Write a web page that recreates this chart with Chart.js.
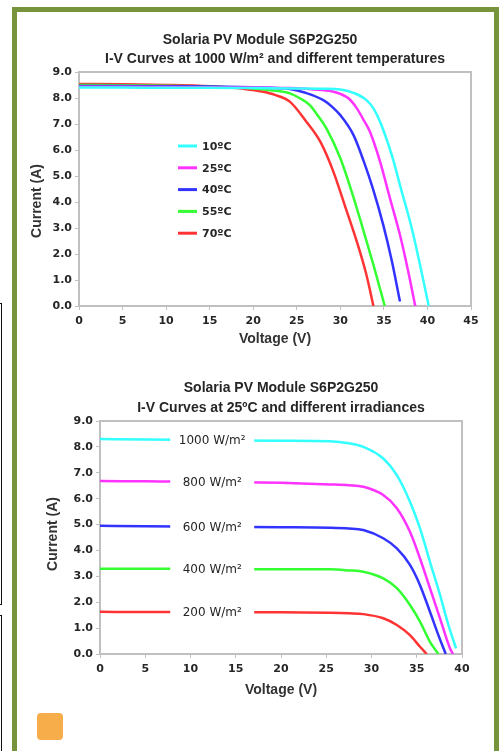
<!DOCTYPE html>
<html>
<head>
<meta charset="utf-8">
<script src="https://cdn.jsdelivr.net/npm/chart.js@4.4.0/dist/chart.umd.min.js"></script>
<style>
  html, body { margin: 0; padding: 0; background: #fff; overflow: hidden; }
  body { width: 501px; height: 751px; position: relative; }
  .marco { position: absolute; left: 12px; top: 7px; width: 487px; height: 800px;
           border: 5px solid #77933C; box-sizing: border-box; }
  .borde1 { position: absolute; left: -10px; top: 303px; width: 12px; height: 302px;
            border: 1px solid #111; box-sizing: border-box; }
  .borde2 { position: absolute; left: -10px; top: 615px; width: 12px; height: 200px;
            border: 1px solid #111; box-sizing: border-box; }
  .cuadro { position: absolute; left: 37px; top: 713px; width: 26px; height: 27px;
            background: #F7AD4A; border-radius: 4px; }
  canvas { position: absolute; left: 17px; }
  #chart-temp { top: 20px; }
  #chart-irr { top: 365px; }
</style>
</head>
<body>
<div class="borde1"></div>
<div class="borde2"></div>
<div class="marco"></div>
<canvas id="chart-temp" width="477" height="335"></canvas>
<canvas id="chart-irr" width="477" height="345"></canvas>
<div class="cuadro"></div>

<script>
// Curvas I-V a 1000 W/m2 y distintas temperaturas
const tempLabels = ['10ºC', '25ºC', '40ºC', '55ºC', '70ºC'];
const v10 = [0, 5, 10, 15, 20, 25, 28, 30, 31.5, 33, 33.8, 34.56, 35.9, 37.05, 38.2, 39.15, 40.15];
const i10 = [8.40, 8.40, 8.39, 8.39, 8.38, 8.37, 8.36, 8.33, 8.20, 7.92, 7.60, 7.09, 5.81, 4.40, 2.99, 1.58, 0.00];
const v25 = [0, 5, 10, 15, 20, 24.2, 27, 29, 30, 31, 31.9, 32.6, 33.4, 34.56, 35.7, 36.85, 37.8, 38.6];
const i25 = [8.43, 8.43, 8.42, 8.41, 8.40, 8.38, 8.33, 8.26, 8.16, 7.97, 7.60, 7.20, 6.70, 5.55, 4.14, 2.73, 1.32, 0.00];
const v40 = [0, 5, 10, 15, 20, 22, 24.2, 26, 28.05, 29, 29.97, 31.5, 32.65, 33.8, 34.94, 35.9, 36.85];
const i40 = [8.46, 8.46, 8.45, 8.44, 8.41, 8.39, 8.35, 8.20, 7.92, 7.68, 7.35, 6.58, 5.60, 4.45, 3.10, 1.75, 0.17];
const v55 = [0, 5, 10, 15, 18, 20, 22, 24.2, 25.4, 26.5, 27.4, 28.4, 30, 31.3, 32.46, 33.8, 35.1];
const i55 = [8.50, 8.49, 8.47, 8.44, 8.41, 8.37, 8.30, 8.18, 7.98, 7.73, 7.33, 6.83, 5.68, 4.40, 3.12, 1.58, 0.00];
const v70 = [0, 5, 10, 15, 17, 19, 21, 22.5, 24.2, 26.1, 27.7, 29.2, 30.5, 31.9, 33.0, 33.8];
const i70 = [8.54, 8.53, 8.50, 8.45, 8.41, 8.35, 8.25, 8.12, 7.86, 7.09, 6.32, 5.17, 3.88, 2.47, 1.19, 0.00];

// Curvas I-V a 25ºC y distintas irradiancias
const irrLabels = ['1000 W/m²', '800 W/m²', '600 W/m²', '400 W/m²', '200 W/m²'];
const v1000 = [0, 5, 10, 15, 20, 25.4, 27.5, 29.1, 31.3, 32.8, 34.25, 35.36, 36.46, 37.57, 38.5, 39.34];
const i1000 = [8.30, 8.29, 8.27, 8.25, 8.24, 8.22, 8.14, 8.00, 7.55, 6.91, 5.88, 4.85, 3.56, 2.28, 1.12, 0.22];
const v800 = [0, 5, 10, 15, 20, 25.4, 27.5, 29.1, 31.3, 32.8, 34.25, 35.36, 36.46, 37.57, 38.67, 39.0];
const i800 = [6.68, 6.67, 6.66, 6.64, 6.61, 6.55, 6.52, 6.46, 6.14, 5.63, 4.72, 3.69, 2.54, 1.38, 0.22, 0.00];
const v600 = [0, 5, 10, 15, 20, 25.4, 27.5, 29.1, 31.3, 32.8, 34.25, 35.36, 36.46, 37.39, 38.2];
const i600 = [4.95, 4.93, 4.92, 4.91, 4.90, 4.88, 4.85, 4.79, 4.47, 4.08, 3.44, 2.66, 1.63, 0.73, 0.00];
const v400 = [0, 5, 10, 15, 20, 25.4, 27.5, 29.1, 31.3, 32.8, 34.25, 35.36, 36.46, 37.4];
const i400 = [3.29, 3.29, 3.29, 3.28, 3.27, 3.27, 3.23, 3.18, 2.92, 2.54, 1.89, 1.25, 0.47, 0.00];
const v200 = [0, 5, 10, 15, 20, 25.4, 27.5, 29.1, 31.3, 32.8, 34.25, 35.36, 36.1];
const i200 = [1.63, 1.62, 1.62, 1.61, 1.61, 1.59, 1.57, 1.54, 1.38, 1.12, 0.73, 0.28, 0.00];
const labelV = 12.4; // voltaje donde se escriben las etiquetas de irradiancia

const colores = ['#33FFFF', '#FF33FF', '#3333FF', '#33FF33', '#FF3333'];
const tickFont = { family: 'DejaVu Sans', size: 11, weight: 'bold' };
const axisFont = { family: 'Liberation Sans', size: 14, weight: 'bold' };

function puntos(vs, is) {
  return vs.map((v, k) => ({ x: v, y: is[k] }));
}
function interp(vs, is, v) {
  for (let k = 1; k < vs.length; k++) {
    if (v <= vs[k]) return is[k - 1] + (is[k] - is[k - 1]) * (v - vs[k - 1]) / (vs[k] - vs[k - 1]);
  }
  return is[is.length - 1];
}
function series(labels, pares) {
  return pares.map((p, k) => ({
    label: labels[k],
    data: puntos(p[0], p[1]),
    borderColor: colores[k],
    borderWidth: 2.5,
    pointRadius: 0,
    showLine: true,
    fill: false,
    cubicInterpolationMode: 'monotone'
  }));
}

// Titulos, caja del area, titulo del eje y, leyenda / etiquetas
const decorado = {
  id: 'decorado',
  beforeDatasetsDraw(chart, args, o) {
    const { ctx, chartArea: a } = chart;
    ctx.save();
    ctx.strokeStyle = '#C0C0C0';
    ctx.lineWidth = 2;
    ctx.strokeRect(a.left, a.top, a.right - a.left, a.bottom - a.top);
    ctx.restore();
  },
  afterDatasetsDraw(chart, args, o) {
    const { ctx, chartArea: a, scales } = chart;
    const cx = (a.left + a.right) / 2;
    ctx.save();
    ctx.fillStyle = '#262626';
    ctx.textAlign = 'center';
    ctx.textBaseline = 'middle';
    ctx.font = 'bold 14px "Liberation Sans"';
    o.titulo.forEach((t, k) => ctx.fillText(t, cx + o.tituloDx[k], o.tituloY[k]));

    ctx.save();
    ctx.translate(o.yTitulo[0], o.yTitulo[1]);
    ctx.rotate(-Math.PI / 2);
    ctx.fillStyle = '#333';
    ctx.fillText('Current (A)', 0, 0);
    ctx.restore();

    if (o.leyenda) {
      ctx.font = 'bold 11px "DejaVu Sans"';
      ctx.textAlign = 'left';
      chart.data.datasets.forEach((d, k) => {
        const y = o.leyenda.y + k * o.leyenda.dy;
        ctx.strokeStyle = d.borderColor;
        ctx.lineWidth = 3;
        ctx.beginPath();
        ctx.moveTo(o.leyenda.x, y);
        ctx.lineTo(o.leyenda.x + 19, y);
        ctx.stroke();
        ctx.fillStyle = '#262626';
        ctx.fillText(d.label, o.leyenda.x + 24, y + 1);
      });
    }
    if (o.etiquetas) {
      ctx.font = '12px "DejaVu Sans"';
      ctx.textAlign = 'center';
      const x = scales.x.getPixelForValue(labelV);
      o.etiquetas.forEach((p, k) => {
        const y = scales.y.getPixelForValue(interp(p[0], p[1], labelV));
        ctx.fillStyle = '#fff';
        ctx.fillRect(x - 42, y - 7, 84, 14);
        ctx.fillStyle = '#262626';
        ctx.fillText(chart.data.datasets[k].label, x, y + 1);
      });
    }
    ctx.restore();
  }
};

function opciones(xmax, yAncho, xAlto, pad, xTituloPad, deco) {
  return {
    responsive: false,
    animation: false,
    layout: { padding: pad },
    plugins: { legend: { display: false }, tooltip: { enabled: false }, decorado: deco },
    scales: {
      x: {
        type: 'linear', min: 0, max: xmax,
        afterFit: s => { s.height = xAlto; },
        grid: { drawOnChartArea: false, tickLength: 4, color: '#C0C0C0' },
        border: { color: '#C0C0C0', width: 2 },
        ticks: { stepSize: 5, padding: 5, color: '#262626', font: tickFont },
        title: { display: true, text: 'Voltage (V)', color: '#333', font: axisFont,
                 padding: { top: 0, bottom: xTituloPad } }
      },
      y: {
        min: 0, max: 9,
        afterFit: s => { s.width = yAncho; },
        grid: { drawOnChartArea: false, tickLength: 4, color: '#C0C0C0' },
        border: { color: '#C0C0C0', width: 2 },
        ticks: { stepSize: 1, padding: 3, color: '#262626', font: tickFont,
                 callback: v => v.toFixed(1) }
      }
    }
  };
}

const paresTemp = [[v10, i10], [v25, i25], [v40, i40], [v55, i55], [v70, i70]];
new Chart(document.getElementById('chart-temp'), {
  type: 'scatter',
  data: { datasets: series(tempLabels, paresTemp) },
  options: opciones(45, 62, 49, { top: 52, right: 23, left: 0, bottom: 0 }, 7, {
    titulo: ['Solaria PV Module S6P2G250', 'I-V Curves at 1000 W/m² and different temperatures'],
    tituloDx: [-15, 0],
    tituloY: [20, 39],
    yTitulo: [20, 181],
    leyenda: { x: 161, y: 126, dy: 21.8 }
  }),
  plugins: [decorado]
});

const paresIrr = [[v1000, i1000], [v800, i800], [v600, i600], [v400, i400], [v200, i200]];
new Chart(document.getElementById('chart-irr'), {
  type: 'scatter',
  data: { datasets: series(irrLabels, paresIrr) },
  options: opciones(40, 83, 56, { top: 56, right: 32, left: 0, bottom: 0 }, 11, {
    titulo: ['Solaria PV Module S6P2G250', 'I-V Curves at 25ºC and different irradiances'],
    tituloDx: [0, 0],
    tituloY: [23, 43],
    yTitulo: [36, 169],
    etiquetas: paresIrr
  }),
  plugins: [decorado]
});
</script>
</body>
</html>
